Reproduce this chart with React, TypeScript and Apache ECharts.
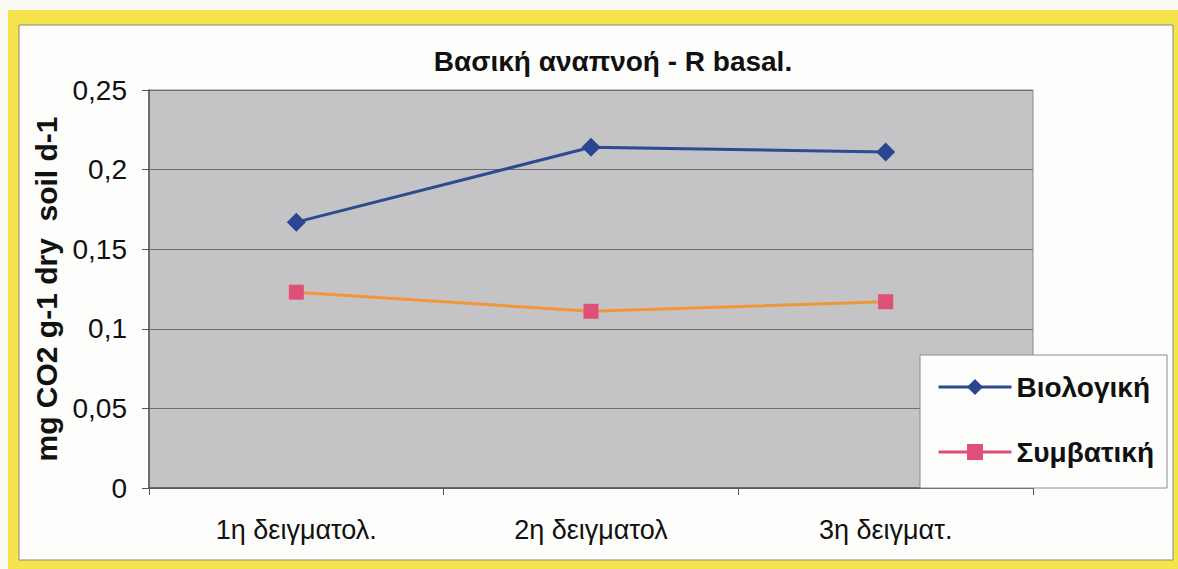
import React, { useEffect, useRef } from "react";
import * as echarts from "echarts";

const categories = ["1η δειγματολ.", "2η δειγματολ", "3η δειγματ."];
const biologiki = [0.167, 0.214, 0.211];
const symvatiki = [0.123, 0.111, 0.117];
const seriesNames = ["Βιολογική", "Συμβατική"];
const yTicks = { min: 0, max: 0.25, interval: 0.05 };

const FONT = "'Liberation Sans', Arial, sans-serif";

export default function App() {
  const ref = useRef<HTMLDivElement>(null);
  useEffect(() => {
    if (!ref.current) return;
    const chart = echarts.init(ref.current, null, { renderer: "svg" });
    chart.setOption({
      animation: false,
      backgroundColor: "#fbfbf4",
      textStyle: { fontFamily: FONT },
      graphic: [
        {
          type: "rect",
          z: -10,
          shape: { x: 8, y: 10, width: 1170, height: 559 },
          style: { fill: "#f6e44c" },
          silent: true,
        },
        {
          type: "rect",
          z: -9,
          shape: { x: 19, y: 25, width: 1154, height: 535 },
          style: { fill: "#fdfdfb", stroke: "#8a8a80", lineWidth: 1 },
          silent: true,
        },
        {
          type: "rect",
          z: 10,
          shape: { x: 920, y: 355, width: 247, height: 133 },
          style: { fill: "#fdfdfb", stroke: "#8c8c8c", lineWidth: 1 },
          silent: true,
        },
      ],
      title: {
        text: "Βασική αναπνοή - R basal.",
        left: 608,
        textAlign: "center",
        top: 42,
        textStyle: { fontFamily: FONT, fontSize: 28, fontWeight: "bold", color: "#111" },
      },
      legend: {
        orient: "vertical",
        left: 937,
        top: 373,
        padding: 0,
        z: 20,
        itemWidth: 73,
        itemHeight: 20,
        itemGap: 37,
        textStyle: { fontFamily: FONT, fontSize: 28, fontWeight: "bold", color: "#111" },
        data: [
          { name: seriesNames[0], lineStyle: { color: "#2f4b8f", width: 3 } },
          { name: seriesNames[1], lineStyle: { color: "#e04f78", width: 3 } },
        ],
      },
      grid: {
        left: 149,
        top: 90,
        width: 884,
        height: 398,
        show: true,
        backgroundColor: "#c4c4c6",
        borderColor: "#8a8a8a",
        borderWidth: 1,
      },
      xAxis: {
        type: "category",
        data: categories,
        boundaryGap: true,
        axisLine: { lineStyle: { color: "#555", width: 1.5 } },
        axisTick: { show: true, length: 7, alignWithLabel: false, lineStyle: { color: "#555" } },
        axisLabel: { fontFamily: FONT, fontSize: 27, color: "#111", margin: 28 },
        splitLine: { show: false },
      },
      yAxis: {
        type: "value",
        min: yTicks.min,
        max: yTicks.max,
        interval: yTicks.interval,
        name: "mg CO2 g-1 dry  soil d-1",
        nameLocation: "middle",
        nameGap: 88,
        nameTextStyle: { fontFamily: FONT, fontSize: 30, fontWeight: "bold", color: "#111" },
        axisLine: { show: true, lineStyle: { color: "#555", width: 1.5 } },
        axisTick: { show: true, length: 7, lineStyle: { color: "#555" } },
        axisLabel: {
          fontFamily: FONT,
          fontSize: 28,
          color: "#111",
          margin: 22,
          formatter: (v: number) => String(+v.toFixed(2)).replace(".", ","),
        },
        splitLine: { show: true, lineStyle: { color: "#6e6e6e", width: 1 } },
      },
      series: [
        {
          name: seriesNames[0],
          type: "line",
          data: biologiki,
          symbol: "diamond",
          symbolSize: [19, 19],
          lineStyle: { color: "#2f4b8f", width: 3 },
          itemStyle: { color: "#2b4690" },
          z: 3,
        },
        {
          name: seriesNames[1],
          type: "line",
          data: symvatiki,
          symbol: "rect",
          symbolSize: 15,
          lineStyle: { color: "#f2953a", width: 3 },
          itemStyle: { color: "#e04f78" },
          z: 3,
        },
      ],
    });
    return () => chart.dispose();
  }, []);
  return (
    <div
      ref={ref}
      style={{ position: "absolute", left: 0, top: 0, width: 1178, height: 569 }}
    />
  );
}
